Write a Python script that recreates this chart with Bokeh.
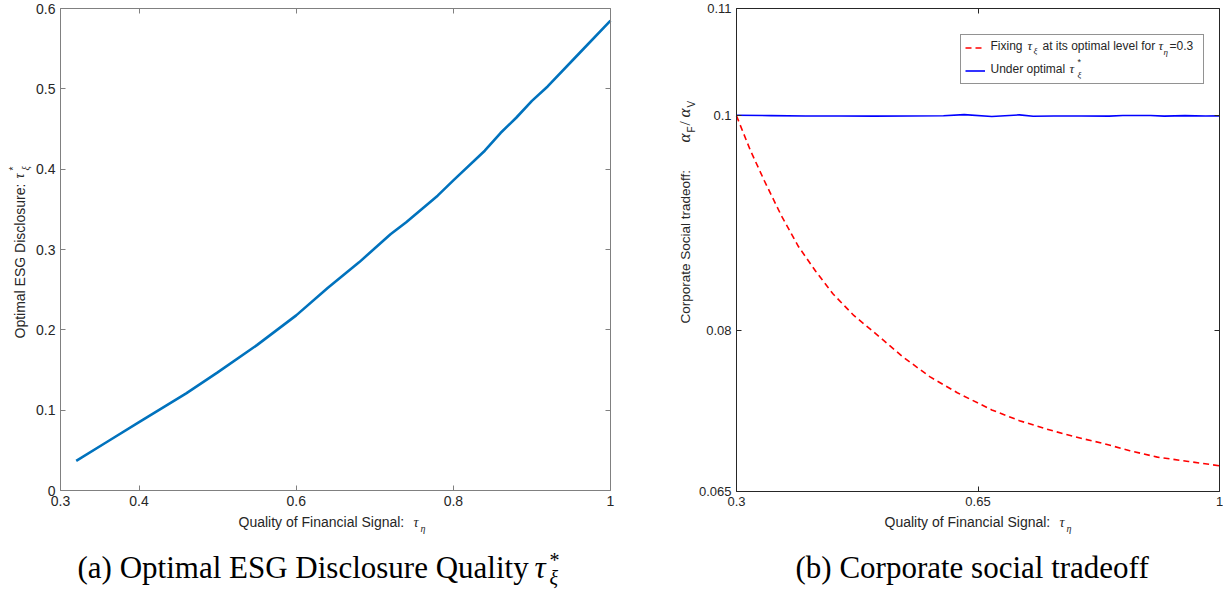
import math
from bokeh.plotting import figure
from bokeh.models import (Range1d, FixedTicker, CustomJSTickFormatter, LinearAxis,
                          Label, Legend, LegendItem, CustomLabelingPolicy)
from bokeh.layouts import row
from bokeh.embed import file_html
from bokeh.resources import INLINE

# ---------------- data ----------------
# Panel (a): optimal ESG disclosure quality vs quality of financial signal
tau_eta_a = [0.32, 0.36, 0.40, 0.46, 0.50, 0.55, 0.60, 0.64, 0.68, 0.72, 0.74,
             0.78, 0.80, 0.84, 0.86, 0.88, 0.90, 0.92, 0.96, 1.00]
tau_xi_opt = [0.037, 0.061, 0.085, 0.121, 0.147, 0.181, 0.218, 0.252, 0.284, 0.319, 0.334,
              0.367, 0.386, 0.423, 0.445, 0.464, 0.485, 0.503, 0.544, 0.585]

# Panel (b): corporate social tradeoff alpha_F / alpha_V
tau_eta_fixed = [0.30, 0.32, 0.34, 0.365, 0.39, 0.415, 0.44, 0.47, 0.50, 0.54, 0.58,
                 0.62, 0.67, 0.71, 0.75, 0.79, 0.83, 0.87, 0.91, 0.955, 1.00]
tradeoff_fixed = [0.1000, 0.0968, 0.0940, 0.0907, 0.0878, 0.0855, 0.0834, 0.0814, 0.0798,
                  0.0776, 0.0757, 0.0742, 0.0726, 0.0716, 0.0708, 0.0701, 0.0695, 0.0688,
                  0.0682, 0.0678, 0.0674]
tau_eta_opt = [0.30, 0.35, 0.40, 0.45, 0.50, 0.55, 0.60, 0.63, 0.67, 0.71, 0.73,
               0.76, 0.80, 0.84, 0.86, 0.90, 0.92, 0.95, 0.98, 1.00]
tradeoff_opt = [0.10005, 0.10002, 0.09999, 0.09998, 0.09997, 0.09999, 0.10001, 0.10011,
                0.09994, 0.10009, 0.09996, 0.09998, 0.09999, 0.09997, 0.10003, 0.10003,
                0.09997, 0.10002, 0.09998, 0.10000]

xlim_a, ylim_a = (0.3, 1.0), (0.0, 0.6)
xlim_b, ylim_b = (0.3, 1.0), (0.065, 0.11)
xticks_a = [0.3, 0.4, 0.6, 0.8, 1.0]
yticks_a = [0.0, 0.1, 0.2, 0.3, 0.4, 0.5, 0.6]
xticks_b = [0.3, 0.65, 1.0]
yticks_b = [0.065, 0.08, 0.1, 0.11]

SANS = "Liberation Sans"
SERIF = "Liberation Serif"
TXT = "#262626"
H = 592
fmt = "return String(Number(tick.toFixed(3)));"
A = math.pi / 2

NO_LABELS = """
try {
  const all = [];
  for (const i of indices) all.push(i);
  for (const i of all) indices.unset(i);
} catch (e) {}
return indices;
"""


def ext_range(lo, hi, px_lo, px_hi, total):
    s = (hi - lo) / (px_hi - px_lo)
    return lo - px_lo * s, hi + (total - px_hi) * s


def style_axis(ax, color, ticks, bounds, loc, show_labels=True, size="14px"):
    ax.ticker = FixedTicker(ticks=ticks)
    ax.formatter = CustomJSTickFormatter(code=fmt)
    ax.bounds = bounds
    ax.fixed_location = loc
    ax.major_tick_in = 5
    ax.major_tick_out = 0
    ax.minor_tick_in = 0
    ax.minor_tick_out = 0
    ax.axis_line_color = color
    ax.major_tick_line_color = color
    ax.axis_line_width = 1
    ax.major_label_text_font = SANS
    ax.major_label_text_color = TXT
    ax.axis_label = None
    if show_labels:
        ax.major_label_text_font_size = size
        ax.major_label_standoff = 5
    else:
        ax.major_label_text_font_size = "0px"
        ax.major_label_standoff = 0
        ax.major_label_policy = CustomLabelingPolicy(code=NO_LABELS)


def lab(p, x, y_img, text, size=14, font=SANS, style="normal", angle=0.0,
        align="left", baseline="alphabetic", color=TXT):
    """y_img is the wanted baseline (or centre) in picture pixels from the top."""
    y = H - y_img
    if baseline == "alphabetic":
        y += 0.38 * size
    p.add_layout(Label(x=x, y=y, x_units="screen", y_units="screen", text=text,
                       text_font=font, text_font_size=f"{size}px", text_font_style=style,
                       text_color=color, angle=angle, text_align=align,
                       text_baseline=baseline, level="overlay"))


def make_fig(width, xlim, ylim, box, color, xt, yt, size):
    # box = (left px, right px, top px, bottom px) of the axes box in the canvas
    left, right, top, bottom = box
    xr = ext_range(xlim[0], xlim[1], left, right, width)
    yr = ext_range(ylim[0], ylim[1], H - bottom, H - top, H)
    p = figure(width=width, height=H, x_range=Range1d(*xr), y_range=Range1d(*yr),
               output_backend="svg", toolbar_location=None, title=None,
               min_border=0, min_border_left=0, min_border_right=0,
               min_border_top=0, min_border_bottom=0)
    p.grid.visible = False
    p.outline_line_color = None
    p.background_fill_color = "white"
    p.border_fill_color = "white"
    style_axis(p.xaxis[0], color, xt, xlim, ylim[0], size=size)
    style_axis(p.yaxis[0], color, yt, ylim, xlim[0], size=size)
    top_ax, right_ax = LinearAxis(), LinearAxis()
    p.add_layout(top_ax, "above")
    p.add_layout(right_ax, "right")
    style_axis(top_ax, color, xt, xlim, ylim[1], show_labels=False)
    style_axis(right_ax, color, yt, ylim, xlim[1], show_labels=False)
    return p


# ---------------- panel (a) ----------------
pa = make_fig(620, xlim_a, ylim_a, (60, 610, 8, 490), "#808080", xticks_a, yticks_a, "14px")
pa.line(tau_eta_a, tau_xi_opt, line_color="#0072BD", line_width=2.6)

# x label
lab(pa, 238, 527, "Quality of Financial Signal:")
lab(pa, 413, 527, "τ", font=SERIF, style="italic")
lab(pa, 420, 532, "η", size=10, font=SERIF, style="italic")
# y label (rotated)
lab(pa, 19, 338, "Optimal ESG Disclosure:", angle=A, baseline="middle")
lab(pa, 19, 178, "τ", font=SERIF, style="italic", angle=A, baseline="middle")
lab(pa, 13, 170, "*", size=10, angle=A, baseline="middle")
lab(pa, 25, 170, "ξ", size=10, font=SERIF, style="italic", angle=A, baseline="middle")
# caption
lab(pa, 77, 579, "(a) Optimal ESG Disclosure Quality", size=31, font=SERIF, color="black")
lab(pa, 534, 579, "τ", size=31, font=SERIF, style="italic", color="black")
lab(pa, 549, 567, "*", size=20, font=SERIF, color="black")
lab(pa, 549, 585, "ξ", size=20, font=SERIF, style="italic", color="black")

# ---------------- panel (b) ----------------
pb = make_fig(603, xlim_b, ylim_b, (116, 599, 8, 491), "#262626", xticks_b, yticks_b, "13px")
r_fixed = pb.line(tau_eta_fixed, tradeoff_fixed, line_color="#FF0000", line_width=1.6,
                  line_dash="6 4")
r_opt = pb.line(tau_eta_opt, tradeoff_opt, line_color="#0000FF", line_width=1.6)

legend = Legend(items=[LegendItem(label=" ", renderers=[r_fixed]),
                       LegendItem(label=" ", renderers=[r_opt])],
                location=(340, H - 84), orientation="vertical",
                glyph_width=20, glyph_height=17, label_height=17, label_width=208,
                label_standoff=6, padding=4, spacing=6, margin=0,
                border_line_color="#262626", border_line_width=1,
                background_fill_color="white", background_fill_alpha=0.0,
                label_text_font_size="12px")
pb.add_layout(legend)

# legend texts
y1, y2 = 50, 73
lab(pb, 370, y1, "Fixing", size=12)
lab(pb, 407, y1, "τ", size=13, font=SERIF, style="italic")
lab(pb, 413, y1 + 4, "ξ", size=9, font=SERIF, style="italic")
lab(pb, 422, y1, "at its optimal level for", size=12)
lab(pb, 538, y1, "τ", size=13, font=SERIF, style="italic")
lab(pb, 543, y1 + 5, "η", size=9, font=SERIF, style="italic")
lab(pb, 549, y1, "=0.3", size=12)
lab(pb, 370, y2, "Under optimal", size=12)
lab(pb, 449, y2, "τ", size=13, font=SERIF, style="italic")
lab(pb, 457, y2 - 8, "*", size=9)
lab(pb, 457, y2 + 5, "ξ", size=9, font=SERIF, style="italic")

# x label
lab(pb, 264, 527, "Quality of Financial Signal:")
lab(pb, 439, 527, "τ", font=SERIF, style="italic")
lab(pb, 446, 532, "η", size=10, font=SERIF, style="italic")
# y label (rotated)
lab(pb, 65, 323, "Corporate Social tradeoff:", size=13.5, angle=A, baseline="middle")
lab(pb, 64, 142, "α", size=17, font=SERIF, style="italic", angle=A, baseline="middle")
lab(pb, 71, 132, "F", size=10, angle=A, baseline="middle")
lab(pb, 64, 125, "/", size=15, font=SERIF, angle=A, baseline="middle")
lab(pb, 64, 117, "α", size=17, font=SERIF, style="italic", angle=A, baseline="middle")
lab(pb, 71, 107, "V", size=10, angle=A, baseline="middle")
# caption
lab(pb, 175, 579, "(b) Corporate social tradeoff", size=31, font=SERIF, color="black")

layout = row(pa, pb)
open("out.html", "w").write(file_html(layout, INLINE))
